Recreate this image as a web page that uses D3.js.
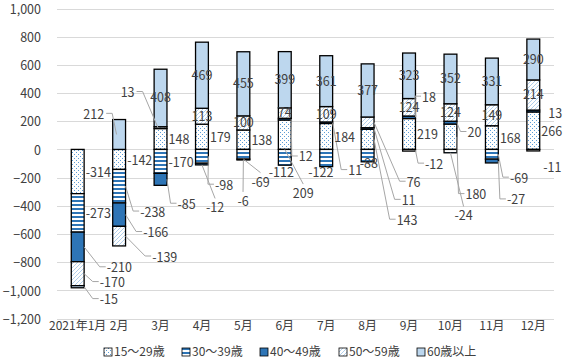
<!DOCTYPE html>
<html lang="ja">
<head>
<meta charset="UTF-8">
<script src="https://d3js.org/d3.v7.min.js"></script>
<style>
  body { margin: 0; background: #fff; }
  text { font-family: "Noto Sans CJK JP", "DejaVu Sans", sans-serif; fill: #404040; }
</style>
</head>
<body>
<svg id="chart" width="567" height="363"></svg>
<script>
// ---- data ----
const months = ["2021年1月", "2月", "3月", "4月", "5月", "6月", "7月", "8月", "9月", "10月", "11月", "12月"];
const seriesNames = ["15～29歳", "30～39歳", "40～49歳", "50～59歳", "60歳以上"];
const age15to29 = [-314, -142, 148, 179, 138, 209, 184, 143, 219, 180, 168, 266];
const age30to39 = [-273, -238, -170, -98, -69, -112, -122, -88, -12, -24, -69, -11];
const age40to49 = [-210, -166, -85, -12, -6, 12, 11, 11, 18, 20, -27, 13];
const age50to59 = [-170, -139, 13, 113, 100, 74, 109, 76, 124, 124, 149, 214];
const age60plus = [-15, 212, 408, 469, 455, 399, 361, 377, 323, 352, 331, 290];
const yTicks = [1000, 800, 600, 400, 200, 0, -200, -400, -600, -800, -1000, -1200];

const allSeries = [age15to29, age30to39, age40to49, age50to59, age60plus];

// label placement: "c" centered, "r" right of bar, or [dx, dy, leader, anchor]
const labelPlace = [
  ["r", "r", [29, 21, 1], [22, 9, 1], [22, 13, 1]],
  ["r", [21, 26, 1], [24, 18, 1], [33, 21, 1], [-15, -20, 1, "end"]],
  ["r", "r", [17, 25, 1], [-26, -35, 1, "end"], "c"],
  ["r", [13, 29, 1], [4, 44, 1], "c", "c"],
  ["r", [8, 28, 1], [-6, 42, 1], "c", "c"],
  [[8, 59, 1], [-16, 15, 0], [14, 38, 1], "c", "c"],
  ["r", [-18, 15, 0], [22, 48, 1], "c", "c"],
  [[29, 81, 1], [-8, 8, 0], [34, 72, 1], [39, 60, 1], "c"],
  ["r", [16, 14, 1], [13, -20, 1], "c", "c"],
  [[15, 58, 1], [4, 65, 1], [17, 10, 1], "c", "c"],
  ["r", [18, 24, 1], [15, 39, 1], "c", "c"],
  ["r", [10, 17, 0], [15, 3, 0], "c", "c"]
];

const svg = d3.select("#chart");
const defs = svg.append("defs");

// patterns
const pDots = defs.append("pattern").attr("id", "pDots").attr("patternUnits", "userSpaceOnUse")
  .attr("width", 4).attr("height", 4);
pDots.append("rect").attr("width", 4).attr("height", 4).attr("fill", "#fff");
pDots.append("rect").attr("x", 0).attr("y", 0).attr("width", 1).attr("height", 1).attr("fill", "#5b9bd5");
pDots.append("rect").attr("x", 2).attr("y", 2).attr("width", 1).attr("height", 1).attr("fill", "#5b9bd5");

const pStripe = defs.append("pattern").attr("id", "pStripe").attr("patternUnits", "userSpaceOnUse")
  .attr("width", 4).attr("height", 4);
pStripe.append("rect").attr("width", 4).attr("height", 4).attr("fill", "#fff");
pStripe.append("rect").attr("width", 4).attr("height", 2).attr("fill", "#2e75b6");

const pHatch = defs.append("pattern").attr("id", "pHatch").attr("patternUnits", "userSpaceOnUse")
  .attr("width", 4).attr("height", 4);
pHatch.append("rect").attr("width", 4).attr("height", 4).attr("fill", "#fff");
pHatch.append("path").attr("d", "M0,4 L4,0")
  .attr("stroke", "#9dc3e6").attr("stroke-width", 0.8);

const fills = ["url(#pDots)", "url(#pStripe)", "#2e75b6", "url(#pHatch)", "#bdd7ee"];

// scales
const x = d3.scaleBand().domain(months).range([57, 554]).paddingInner(0.69).paddingOuter(0.345);
const y = d3.scaleLinear().domain([-1200, 1000]).range([318.5, 8.5]);

// gridlines
svg.append("g").selectAll("line").data(yTicks).join("line")
  .attr("x1", 57).attr("x2", 554)
  .attr("y1", d => Math.round(y(d)) + 0.5).attr("y2", d => Math.round(y(d)) + 0.5)
  .attr("stroke", "#d9d9d9").attr("stroke-width", 1);

// y axis labels
const yAxis = svg.append("g").attr("transform", "translate(41,0)")
  .call(d3.axisLeft(y).tickValues(yTicks).tickSize(0).tickPadding(0).tickFormat(d3.format(",")));
yAxis.select(".domain").remove();
yAxis.selectAll("text").style("font-size", "12.5px").attr("fill", "#404040")
  .attr("dy", "0.38em")
  .style("font-family", "'Noto Sans CJK JP', sans-serif");

// x axis labels
const xAxis = svg.append("g").attr("transform", "translate(0,318)")
  .call(d3.axisBottom(x).tickSize(0).tickPadding(3));
xAxis.select(".domain").remove();
xAxis.selectAll("text").style("font-size", "12px").attr("fill", "#404040")
  .style("font-family", "'Noto Sans CJK JP', sans-serif");

// stacking with positives up / negatives down
const segs = [];
months.forEach((m, i) => {
  let pos = 0, neg = 0;
  allSeries.forEach((s, k) => {
    const v = s[i];
    let y0, y1;
    if (v >= 0) { y0 = pos; y1 = pos + v; pos = y1; }
    else { y0 = neg; y1 = neg + v; neg = y1; }
    segs.push({ m, i, k, v, y0, y1 });
  });
});

const bw = x.bandwidth();
svg.append("g").selectAll("rect").data(segs).join("rect")
  .attr("x", d => x(d.m))
  .attr("width", bw)
  .attr("y", d => y(Math.max(d.y0, d.y1)))
  .attr("height", d => Math.abs(y(d.y0) - y(d.y1)))
  .attr("fill", d => fills[d.k])
  .attr("stroke", "#000").attr("stroke-width", 1.3);

// labels
const labelG = svg.append("g");
segs.forEach(d => {
  const cx = x(d.m) + bw / 2;
  const cy = y((d.y0 + d.y1) / 2);
  const p = labelPlace[d.i][d.k];
  let tx, ty, anchor = "start", leader = false;
  if (p === "c") { tx = cx; ty = cy; anchor = "middle"; }
  else if (p === "r") { tx = cx + 8; ty = cy + 1; }
  else { tx = cx + p[0]; ty = cy + p[1]; leader = !!p[2]; anchor = p[3] || "start"; }
  const t = labelG.append("text")
    .attr("x", tx).attr("y", ty).attr("dy", "0.35em")
    .attr("text-anchor", anchor)
    .style("font-size", "12.5px")
    .text(d.v);
  if (leader) {
    const b = t.node().getBBox();
    const top = y(Math.max(d.y0, d.y1)), bot = y(Math.min(d.y0, d.y1));
    let pts;
    if (anchor === "end") {
      // label sits up-left: leader from label's right side to bar edge
      const ax = x(d.m) + bw * 0.3, ay = cy;
      pts = [[b.x + b.width + 2, b.y + b.height / 2], [b.x + b.width + 8, b.y + b.height / 2], [ax, ay]];
    } else if (b.x > x(d.m) + bw + 4) {
      const ax = x(d.m) + bw, ay = Math.max(top, Math.min(bot, cy));
      pts = [[ax, ay], [b.x - 7, b.y + b.height / 2], [b.x - 1, b.y + b.height / 2]];
    } else {
      const ax = cx, ay = bot;
      pts = [[ax, ay], [b.x + b.width / 2, b.y + 1]];
    }
    labelG.insert("path", "text").attr("d", d3.line()(pts))
      .attr("fill", "none").attr("stroke", "#a6a6a6").attr("stroke-width", 1);
  }
});

// legend
const legend = svg.append("g").attr("transform", "translate(104,352)");
const legX = [0, 78, 156, 235, 313];
seriesNames.forEach((n, k) => {
  const g = legend.append("g").attr("transform", `translate(${legX[k]},0)`);
  g.append("rect").attr("x", 0).attr("y", -4).attr("width", 8).attr("height", 8)
    .attr("fill", fills[k]).attr("stroke", "#000").attr("stroke-width", 0.8);
  g.append("text").attr("x", 10).attr("y", 0).attr("dy", "0.35em")
    .style("font-size", "12px").text(n);
});
</script>
</body>
</html>
